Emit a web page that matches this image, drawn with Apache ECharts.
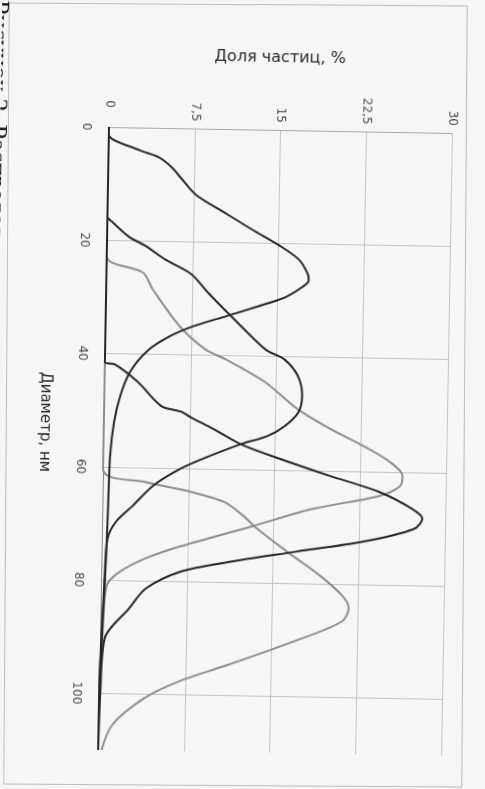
<!DOCTYPE html>
<html><head><meta charset="utf-8">
<script src="https://cdn.jsdelivr.net/npm/echarts@6/dist/echarts.min.js"></script>
<style>
html,body{margin:0;padding:0;background:#f6f6f6;width:485px;height:789px;overflow:hidden;}
#frame{position:absolute;left:6px;top:4px;width:457px;height:780px;border:1px solid #bdbdbd;transform:rotate(0.4deg);}
#c{position:absolute;left:0;top:0;width:485px;height:789px;transform:rotate(1deg);transform-origin:109px 127px;}
</style></head><body>
<div id="frame"></div>
<div id="c"></div>
<script>
// Diameter (nm) and particle share (%) for each distribution curve
const diamA = [0, 1.4, 4, 5.2, 7, 8.6, 11.7, 14.6, 17.7, 20.3, 22.8, 25.3, 26.5, 27.6, 29.6, 31.2, 33, 34.9, 36.8, 39.4, 43.2, 47.4, 52, 58, 67, 76, 90, 100, 110];
const pctA  = [0, 0, 2.7, 4.4, 5.6, 6.3, 7.7, 10.1, 12.7, 15.0, 16.8, 17.6, 17.7, 17.2, 15.6, 13.3, 10.6, 7.7, 5.6, 3.7, 2.2, 1.4, 0.9, 0.6, 0.5, 0.4, 0.15, 0, 0];

const diamB = [0, 15.8, 16.7, 19.3, 20.9, 23.2, 25.7, 28.9, 32.3, 36.6, 38.9, 40.5, 43.4, 46.9, 49.8, 52.3, 54.1, 55.6, 58.3, 60.2, 63.2, 66.9, 69.7, 72.7, 80, 95, 110];
const pctB  = [0, 0, 0.4, 1.9, 3.4, 5.1, 7.4, 8.9, 10.6, 12.8, 14.1, 15.7, 16.9, 17.3, 17.0, 15.8, 14.3, 12.0, 8.7, 6.7, 4.4, 2.6, 1.2, 0.5, 0.3, 0.05, 0];

const diamC = [0, 41.5, 41.9, 44.9, 49.1, 50.0, 51.0, 53.0, 55.6, 58.1, 60.9, 63.6, 66.5, 68.2, 70.0, 72.4, 74.4, 76.4, 78.3, 81.4, 84.9, 90.3, 100, 110];
const pctC  = [0, 0, 0.9, 2.9, 5.0, 6.7, 7.6, 9.6, 12.0, 15.5, 19.8, 24.2, 27.1, 28.0, 27.3, 22.9, 17.0, 11.2, 6.9, 3.9, 2.5, 0.4, 0.1, 0];

const diamD = [0, 22.8, 25.6, 28.6, 35.0, 39.0, 40.6, 44.5, 49.2, 52.6, 55.5, 58.3, 60.7, 62.5, 64.3, 66.8, 70.0, 73.8, 75.9, 78.5, 81.0, 90, 100, 110];
const pctD  = [0, 0, 3.2, 4.1, 6.5, 8.8, 10.5, 14.0, 16.9, 19.8, 22.7, 25.1, 26.2, 26.0, 24.2, 18.4, 13.2, 6.9, 4.0, 1.6, 0.5, 0.2, 0, 0];

const diamE = [0, 60.4, 62.6, 64.1, 65.8, 68.0, 70.5, 74.4, 78.5, 82.0, 84.2, 86.6, 90.2, 94.6, 97.7, 100.8, 105.5, 110];
const pctE  = [0, 0, 3.8, 7.6, 10.6, 12.2, 13.6, 16.2, 19.1, 21.1, 21.7, 21.1, 17.0, 11.2, 6.9, 3.9, 1.2, 0.3];

const pctTitle = 'Доля частиц, %';
const diamTitle = 'Диаметр, нм';
const caption = 'Рисунок 2. Распределение';

const DARK = '#262626', GRAY = '#8e8e8e';
function pairs(d, p) { return d.map((v, i) => [p[i], v]); }
function line(d, p, color) {
  return { type: 'line', data: pairs(d, p), smooth: 0.3, symbol: 'none',
           lineStyle: { color: color, width: 2 }, silent: true };
}
const labelFont = { fontFamily: 'DejaVu Sans', fontSize: 12, color: '#4a4a4a' };

const chart = echarts.init(document.getElementById('c'), null, { renderer: 'canvas' });
chart.setOption({
  animation: false,
  backgroundColor: 'transparent',
  grid: { left: 109, top: 127, width: 343, height: 623 },
  xAxis: {
    type: 'value', position: 'top', min: 0, max: 30, interval: 7.5,
    axisLine: { show: true, lineStyle: { color: '#a9a9a9', width: 1 } },
    axisTick: { show: false },
    splitLine: { show: true, showMinLine: false, lineStyle: { color: '#c6c6c6', width: 1 } },
    axisLabel: Object.assign({ rotate: -90, margin: 7,
      formatter: v => v === 0 ? '{z|0}' : String(v).replace('.', ','),
      rich: { z: Object.assign({ padding: [0, 12, 0, 0] }, labelFont) } }, labelFont)
  },
  yAxis: {
    type: 'value', inverse: true, min: 0, max: 110, interval: 20,
    axisLine: { show: true, onZero: false, lineStyle: { color: '#8a8a8a', width: 1 } },
    axisTick: { show: false },
    splitLine: { show: true, showMinLine: false, showMaxLine: false, lineStyle: { color: '#c6c6c6', width: 1 } },
    axisLabel: Object.assign({ rotate: -90, margin: 17, showMaxLabel: false }, labelFont)
  },
  graphic: [
    { type: 'text', x: 279, y: 55, silent: true,
      style: { text: pctTitle, align: 'center', verticalAlign: 'middle', font: '16px "DejaVu Sans"', fill: '#2a2a2a' } },
    { type: 'text', x: 50, y: 423, rotation: -Math.PI / 2, silent: true,
      style: { text: diamTitle, align: 'center', verticalAlign: 'middle', font: '15px "DejaVu Sans"', fill: '#2a2a2a' } },
    { type: 'text', x: -3, y: 2, rotation: -Math.PI / 2, silent: true,
      style: { text: caption, align: 'left', verticalAlign: 'middle', font: '26px "Liberation Serif"', fill: '#1a1a1a' } }
  ],
  series: [
    line(diamE, pctE, GRAY),
    line(diamD, pctD, GRAY),
    line(diamA, pctA, DARK),
    line(diamB, pctB, DARK),
    line(diamC, pctC, DARK)
  ]
});
</script>
</body></html>
